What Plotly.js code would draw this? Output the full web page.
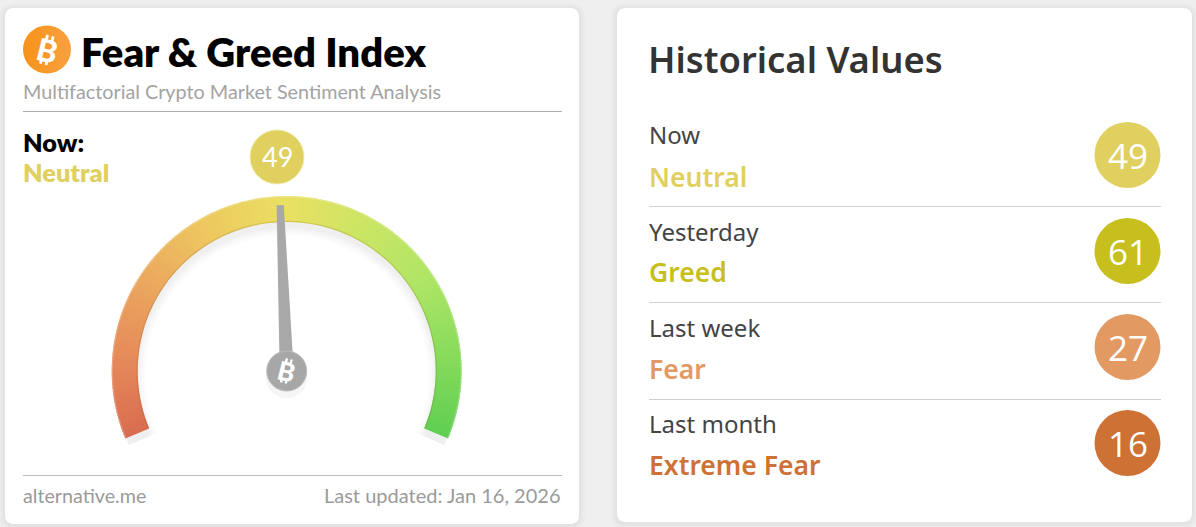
<!DOCTYPE html>
<html><head><meta charset="utf-8">
<script src="https://cdn.plot.ly/plotly-3.0.1.min.js"></script>
<style>html,body{margin:0;padding:0;background:#efefef;overflow:hidden}#c{width:1196px;height:527px}</style>
</head><body><div id="c"></div>
<script>
const W = 1196, H = 527;
// ---- data
const titleText = 'Fear & Greed Index';
const subtitleText = 'Multifactorial Crypto Market Sentiment Analysis';
const nowValue = 49;
const nowClass = 'Neutral';
const nowColor = '#DFD05F';
const footerLeft = 'alternative.me';
const footerRight = 'Last updated: Jan 16, 2026';
const historyTitle = 'Historical Values';
const rowLabels = ['Now', 'Yesterday', 'Last week', 'Last month'];
const rowClasses = ['Neutral', 'Greed', 'Fear', 'Extreme Fear'];
const rowValues = [49, 61, 27, 16];
const rowColors = ['#DFD05F', '#C6BF1E', '#E39A62', '#CE7135'];
const gaugeStopValues = [0, 12, 25, 37, 50, 62, 75, 87, 100];
const gaugeStopColors = ['#D96C50', '#E58A5A', '#EBA95F', '#EDC860', '#E9E062', '#CDE564', '#B0E566', '#8ADC5C', '#60CF52'];

// ---- gauge scale
const cx = 286.7, cy = 371, Rview = 190, Rin = 149, Rout = 175;
const angleOf = v => 90 - (v - 50) * 2.25;
const hex = c => [1, 3, 5].map(i => parseInt(c.substr(i, 2), 16));
function gaugeColor(v) {
  let i = 0;
  while (i < gaugeStopValues.length - 2 && v > gaugeStopValues[i + 1]) i++;
  const t = (v - gaugeStopValues[i]) / (gaugeStopValues[i + 1] - gaugeStopValues[i]);
  const a = hex(gaugeStopColors[i]), b = hex(gaugeStopColors[i + 1]);
  return 'rgb(' + a.map((x, k) => Math.round(x + (b[k] - x) * t)).join(',') + ')';
}
const segValues = [];
for (let v = 0; v < 100; v += 0.5) segValues.push(v + 0.25);

function polarDomain(dy) {
  return {
    x: [(cx - Rview) / W, (cx + Rview) / W],
    y: [1 - (cy + dy + Rview * Math.sin(35 * Math.PI / 180)) / H, 1 - (cy + dy - Rview) / H]
  };
}
const polarBase = dy => ({
  domain: polarDomain(dy), sector: [-35, 215], bgcolor: 'rgba(0,0,0,0)', barmode: 'overlay',
  radialaxis: {visible: false, range: [0, Rview]},
  angularaxis: {visible: false, rotation: 0, direction: 'counterclockwise', thetaunit: 'degrees'}
});

const ring = (sp, base, h, color, v0, v1) => ({
  type: 'barpolar', subplot: sp, r: [h], base: [base],
  theta: [angleOf((v0 + v1) / 2)], width: [Math.abs(angleOf(v0) - angleOf(v1))],
  marker: {color: color, line: {width: 0}}, hoverinfo: 'skip', showlegend: false
});

const traces = [];
// soft shadow under the arc, in an offset polar subplot
[[141, 0.008], [143, 0.010], [145, 0.012], [147, 0.014], [149, 0.016]].forEach(([b, a]) => {
  traces.push(ring('polar', b, 172 - b, `rgba(0,0,0,${a})`, -0.4, 100.4));
});
// gradient arc
traces.push({
  type: 'barpolar', subplot: 'polar2',
  r: segValues.map(() => Rout - Rin), base: segValues.map(() => Rin),
  theta: segValues.map(angleOf), width: segValues.map(() => 1.5),
  marker: {color: segValues.map(gaugeColor), line: {width: 0}}, hoverinfo: 'skip', showlegend: false
});
traces.push(ring('polar2', Rin, 1.2, 'rgba(130,90,30,0.20)', 0, 100));
traces.push(ring('polar2', Rout - 1.2, 1.2, 'rgba(255,255,255,0.22)', 0, 100));
// needle
const deg = Math.PI / 180, ntip = 166, nbase = 15;
const needleTheta = angleOf(nowValue);
const off = (hw, r) => Math.atan(hw / r) / deg;
traces.push({
  type: 'scatterpolar', subplot: 'polar2', mode: 'lines', fill: 'toself',
  r: [nbase, ntip, ntip, nbase, nbase],
  theta: [needleTheta + off(7.5, nbase), needleTheta + off(3.6, ntip), needleTheta - off(3.6, ntip), needleTheta - off(7.5, nbase), needleTheta + off(7.5, nbase)],
  line: {width: 0, color: '#A6A6A6'}, fillcolor: '#A8A8A8', hoverinfo: 'skip', showlegend: false
});
// hub (shadow, then disc)
traces.push({
  type: 'scatterpolar', subplot: 'polar', mode: 'markers', r: [0], theta: [0],
  marker: {size: 42, color: 'rgba(0,0,0,0.04)', line: {width: 0}}, hoverinfo: 'skip', showlegend: false
});
traces.push({
  type: 'scatterpolar', subplot: 'polar2', mode: 'markers', r: [0], theta: [0],
  marker: {size: 40, color: '#A7A7A7', line: {width: 1, color: '#BDBDBD'}}, hoverinfo: 'skip', showlegend: false
});
// value discs on pixel scale
const rowY = [155, 251, 347, 443];
traces.push({
  type: 'scatter', xaxis: 'x', yaxis: 'y', mode: 'markers',
  x: rowValues.map(() => 1127.5), y: rowY,
  marker: {size: 66, color: rowColors, line: {width: 0}},
  hoverinfo: 'skip', showlegend: false, cliponaxis: false
});
traces.push({
  type: 'scatter', xaxis: 'x', yaxis: 'y', mode: 'markers',
  x: [277], y: [157], marker: {size: 54, color: nowColor, line: {width: 1, color: '#F3EBA6'}},
  hoverinfo: 'skip', showlegend: false, cliponaxis: false
});
traces.push({
  type: 'scatter', xaxis: 'x', yaxis: 'y', mode: 'markers',
  x: [47], y: [49.5],
  marker: {size: 48, color: '#F7931A', gradient: {type: 'horizontal', color: '#F9A040'}, line: {width: 0}},
  hoverinfo: 'skip', showlegend: false
});

// ---- cards, rules
function rr(x0, y0, x1, y1, r) {
  return `M${x0 + r},${y0}L${x1 - r},${y0}Q${x1},${y0} ${x1},${y0 + r}L${x1},${y1 - r}Q${x1},${y1} ${x1 - r},${y1}L${x0 + r},${y1}Q${x0},${y1} ${x0},${y1 - r}L${x0},${y0 + r}Q${x0},${y0} ${x0 + r},${y0}Z`;
}
const shapes = [];
function card(x0, y0, x1, y1) {
  [[6, 0.012], [4, 0.015], [2, 0.02]].forEach(([g, a]) => shapes.push({
    type: 'path', xref: 'x', yref: 'y', layer: 'below', path: rr(x0 - g, y0 - g + 1, x1 + g, y1 + g + 1, 8 + g),
    fillcolor: `rgba(0,0,0,${a})`, line: {width: 0}
  }));
  shapes.push({type: 'path', xref: 'x', yref: 'y', layer: 'below', path: rr(x0, y0, x1, y1, 9), fillcolor: '#ffffff', line: {width: 0}});
}
card(5, 8, 579, 524);
card(617, 8, 1192, 522);
const rule = (x0, x1, y, c) => shapes.push({type: 'line', xref: 'x', yref: 'y', layer: 'below', x0, x1, y0: y, y1: y, line: {width: 1, color: c}});
rule(23, 562, 111.5, '#ABABAB');
rule(23, 562, 475.5, '#BDBDBD');
rule(649, 1161, 206.5, '#CFCFCF');
rule(649, 1161, 302.5, '#CFCFCF');
rule(649, 1161, 399.5, '#CFCFCF');

// ---- text
const ann = [];
function t(text, x, y, size, color, family, weight, anchor, angle) {
  ann.push({
    text, x, y, xref: 'x', yref: 'y', xanchor: anchor || 'left', yanchor: 'middle', showarrow: false,
    textangle: angle || 0, borderpad: 0,
    font: {family, size, color, weight: weight || 400}
  });
}
// bitcoin mark: a tilted bold B with two ticks above and below
function coin(x, y, size) {
  const a = 14 * deg, c = Math.cos(a), s = Math.sin(a);
  t('B', x, y, size, '#FFFFFF', 'Lato', 900, 'center', 14);
  const h = size * 0.72;
  [[-0.14, -0.66, -0.42], [0.12, -0.66, -0.42], [-0.14, 0.42, 0.66], [0.12, 0.42, 0.66]].forEach(([dx, a0, a1]) => {
    const px = (u, v) => [x + (u * c - v * s) * h, y + (u * s + v * c) * h];
    const p0 = px(dx, a0), p1 = px(dx, a1);
    shapes.push({type: 'line', xref: 'x', yref: 'y', layer: 'above', x0: p0[0], y0: p0[1], x1: p1[0], y1: p1[1], line: {width: size * 0.09, color: '#FFFFFF'}});
  });
}
t(titleText, 80, 52, 40, '#000000', 'Lato', 800);
t(subtitleText, 22, 91, 19.8, '#A3A3A3', 'Lato');
t('Now:', 21.5, 142, 25.3, '#000000', 'Lato', 800);
t(nowClass, 21.5, 172, 25.3, nowColor, 'Lato', 800);
t(footerLeft, 22, 495, 19.7, '#9A9A9A', 'Lato');
t(footerRight, 561, 495, 20, '#9A9A9A', 'Lato', 400, 'right');
coin(47, 50, 31);
coin(286.5, 371, 26);
t(String(nowValue), 277, 156, 27, '#FFFFFF', 'Lato', 400, 'center');
t(historyTitle, 647, 58.5, 36.4, '#333333', 'Noto Sans', 600);
const labelY = [134, 231, 327, 423];
const classY = [176.7, 271.7, 368.7, 464.7];
rowLabels.forEach((s, i) => {
  t(s, 648, labelY[i], 24, '#444444', 'Noto Sans');
  t(rowClasses[i], 647.5, classY[i], 26.5, rowColors[i], 'Noto Sans', 600);
  t(String(rowValues[i]), 1127.5, rowY[i], 35, '#FFFFFF', 'Open Sans', 400, 'center');
});

const layout = {
  width: W, height: H, autosize: false,
  margin: {l: 0, r: 0, t: 0, b: 0, pad: 0},
  paper_bgcolor: '#EFEFEF', plot_bgcolor: 'rgba(0,0,0,0)',
  xaxis: {range: [0, W], visible: false, fixedrange: true},
  yaxis: {range: [H, 0], visible: false, fixedrange: true},
  polar: polarBase(6),
  polar2: polarBase(0),
  shapes, annotations: ann, showlegend: false
};
Plotly.newPlot('c', traces, layout, {displayModeBar: false, staticPlot: true});
</script></body></html>
